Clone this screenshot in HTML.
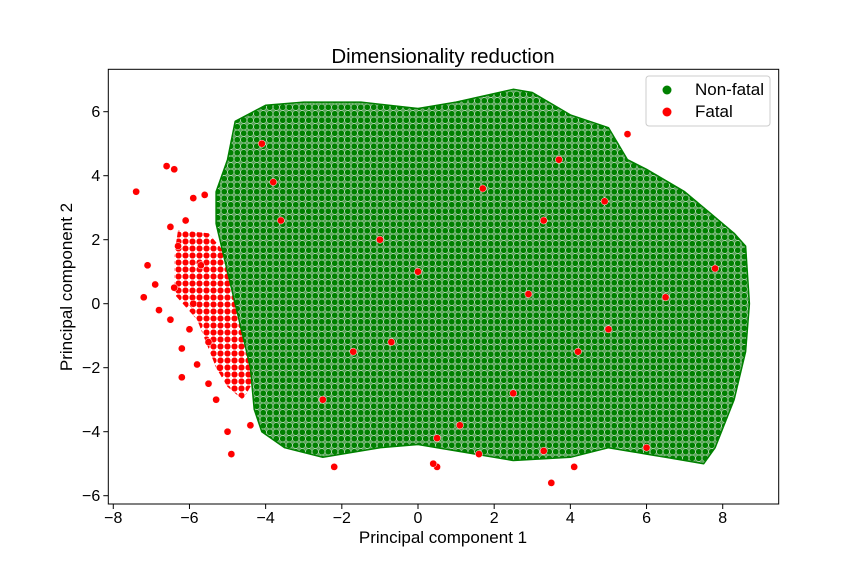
<!DOCTYPE html>
<html><head><meta charset="utf-8"><style>
body{margin:0;background:#fff}
svg text{font-family:"Liberation Sans","DejaVu Sans",sans-serif;fill:#000}
</style></head><body>
<svg id="chart" width="864" height="576" xmlns="http://www.w3.org/2000/svg">
<defs>
<pattern id="gp" width="6.5" height="6.5" patternUnits="userSpaceOnUse">
<rect width="6.5" height="6.5" fill="#5aa55a"/>
<circle cx="3.25" cy="3.25" r="3.1" fill="#008000" stroke="#e8f2e8" stroke-width="0.4"/>
</pattern>
<pattern id="rp" width="7" height="7" patternUnits="userSpaceOnUse">
<rect width="7" height="7" fill="#fff"/>
<circle cx="3.5" cy="3.5" r="3.3" fill="#ff0000" stroke="#fff" stroke-width="0.5"/>
</pattern>
<clipPath id="clip"><rect x="108.3" y="69.3" width="670.4" height="434.7"/></clipPath>
</defs>
<rect x="0" y="0" width="864" height="576" fill="#fff"/>
<g id="marks" clip-path="url(#clip)"></g>
<g id="axes"></g>
<text x="443" y="63" font-size="20.5" text-anchor="middle">Dimensionality reduction</text>
<text x="443" y="543" font-size="17" text-anchor="middle">Principal component 1</text>
<text transform="translate(72,287) rotate(-90)" font-size="17" text-anchor="middle">Principal component 2</text>
<g>
<rect x="646" y="76" width="124" height="50" rx="3" fill="#fff" fill-opacity="0.8" stroke="#ccc"/>
<circle cx="667" cy="90" r="4.5" fill="#008000"/>
<text x="695" y="95" font-size="17">Non-fatal</text>
<circle cx="667" cy="112" r="4.5" fill="#ff0000"/>
<text x="695" y="117" font-size="17">Fatal</text>
</g>
</svg>
<script>
const xTicks=[-8,-6,-4,-2,0,2,4,6,8];
const yTicks=[-6,-4,-2,0,2,4,6];
const nonFatalHullX=[-5.3,-5.0,-4.8,-4.0,-3.0,-1.5,0.0,1.0,2.5,3.0,4.0,5.0,5.5,6.0,7.0,7.7,8.3,8.6,8.7,8.6,8.3,7.8,7.5,6.5,6.0,5.0,4.0,2.5,1.0,0.0,-1.0,-2.5,-3.5,-4.1,-4.3,-4.4,-4.6,-4.8,-5.0,-5.3];
const nonFatalHullY=[3.5,4.5,5.7,6.2,6.3,6.3,6.1,6.3,6.7,6.6,5.9,5.5,4.5,4.2,3.5,2.8,2.2,1.8,0.0,-1.5,-3.0,-4.5,-5.0,-4.8,-4.7,-4.5,-4.8,-4.9,-4.6,-4.4,-4.5,-4.8,-4.5,-4.0,-3.3,-2.0,-1.0,0.0,1.0,2.5];
const fatalHullX=[-6.3,-5.5,-5.0,-4.5,-4.3,-4.2,-4.6,-5.0,-5.3,-5.8,-6.4,-6.4];
const fatalHullY=[2.3,2.2,1.5,0.0,-1.0,-2.2,-3.0,-2.6,-2.0,-0.5,0.3,1.5];
const fatalX=[-7.4,-6.6,-6.4,-7.1,-6.9,-7.2,-6.8,-6.5,-6.2,-6.2,-5.8,-5.5,-5.3,-5.0,-4.9,-4.4,-5.6,-5.9,-6.1,-6.5,-6.3,-6.4,-5.9,-6.0,-5.7,-5.5,-5.2,-2.5,0.5,0.4,-2.2,3.5,3.3,4.1,-4.1,-3.8,4.9,5.5,1.7,0.5,4.2,6.0,-1.0,2.5,3.3,5.0,7.8,-3.6,-1.7,0.0,1.1,2.9,6.5,3.7,-0.7,1.6];
const fatalY=[3.5,4.3,4.2,1.2,0.6,0.2,-0.2,-0.5,-1.4,-2.3,-1.9,-2.5,-3.0,-4.0,-4.7,-3.8,3.4,3.3,2.6,2.4,1.8,0.5,0.0,-0.8,1.2,-1.2,-2.0,-3.0,-5.1,-5.0,-5.1,-5.6,-4.6,-5.1,5.0,3.8,3.2,5.3,3.6,-4.2,-1.5,-4.5,2.0,-2.8,2.6,-0.8,1.1,2.6,-1.5,1.0,-3.8,0.3,0.2,4.5,-1.2,-4.7];
const X0=108.3,X1=778.7,Y0=69.3,Y1=504;
function sx(v){return 418+v*38.09;}
function sy(v){return 303.7-v*32;}
const NS="http://www.w3.org/2000/svg";
const marks=document.getElementById('marks'),axes=document.getElementById('axes');
function mk(tag,attrs,parent){const e=document.createElementNS(NS,tag);for(const k in attrs)e.setAttribute(k,attrs[k]);parent.appendChild(e);return e;}
function poly(xs,ys){return xs.map((v,i)=>sx(v).toFixed(1)+','+sy(ys[i]).toFixed(1)).join(' ');}
const fp=mk('polygon',{points:poly(fatalHullX,fatalHullY),fill:'url(#rp)'},marks);


const gp=mk('polygon',{points:poly(nonFatalHullX,nonFatalHullY),fill:'url(#gp)',stroke:'#008000','stroke-width':'1.5','stroke-linejoin':'round'},marks);


fatalX.forEach((v,i)=>{
  const c=mk('circle',{cx:sx(v),cy:sy(fatalY[i]),r:3.6,fill:'#ff0000',stroke:'#fff','stroke-width':'0.5'},marks);
  
  
});
const fr=mk('rect',{x:X0,y:Y0,width:X1-X0,height:Y1-Y0,fill:'none',stroke:'#000','stroke-width':'1'},axes);


xTicks.forEach(t=>{
  const x=sx(t);
  const l=mk('line',{x1:x,x2:x,y1:Y1,y2:Y1+5,stroke:'#000'},axes);
  
  
  const tx=mk('text',{x:x,y:Y1+19,'font-size':'16','text-anchor':'middle'},axes);
  tx.textContent=(t<0?'\u2212'+(-t):String(t));
  
  
});
yTicks.forEach(t=>{
  const y=sy(t);
  const l=mk('line',{x1:X0-5,x2:X0,y1:y,y2:y,stroke:'#000'},axes);
  
  
  const tx=mk('text',{x:X0-8,y:y+5.5,'font-size':'16','text-anchor':'end'},axes);
  tx.textContent=(t<0?'\u2212'+(-t):String(t));
  
  
});
</script>
</body></html>
